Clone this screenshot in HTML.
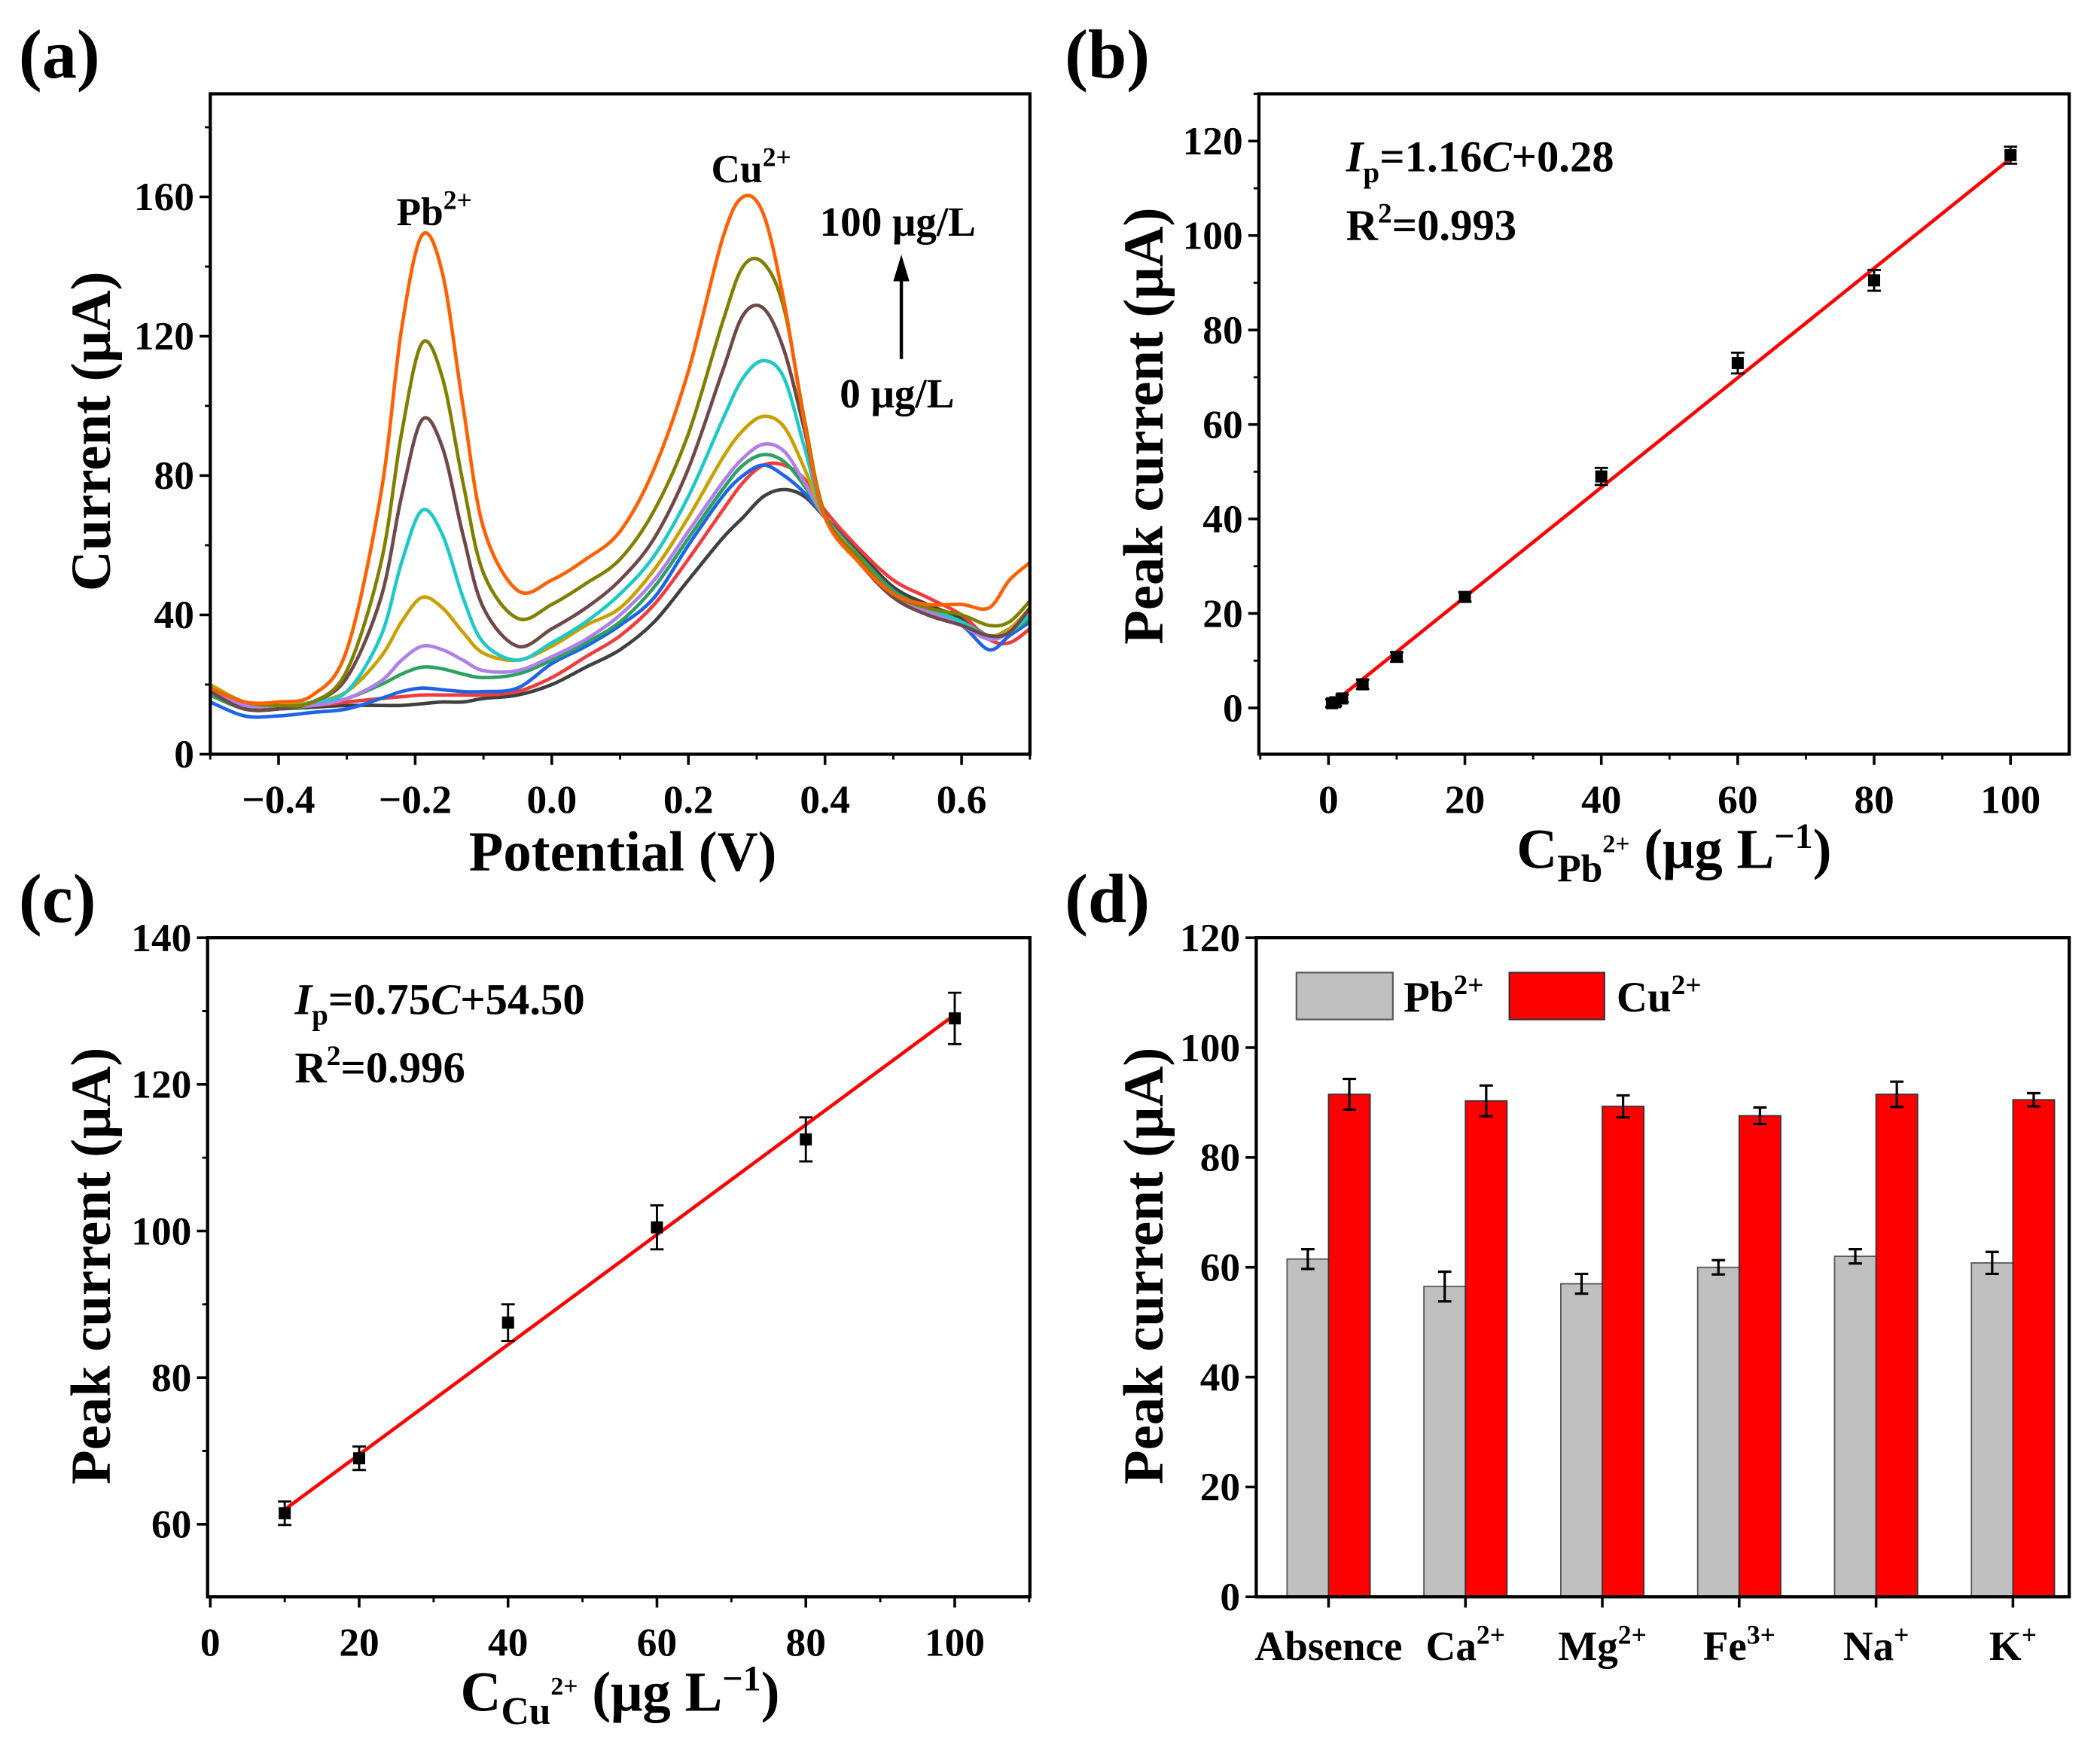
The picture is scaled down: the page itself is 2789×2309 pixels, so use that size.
<!DOCTYPE html>
<html><head><meta charset="utf-8"><style>
html,body{margin:0;padding:0;background:#fff}
svg{display:block;font-family:"Liberation Serif",serif;font-weight:bold}
</style></head><body>
<svg id="fig" width="2789" height="2309" viewBox="0 0 1568 1298.1" xmlns="http://www.w3.org/2000/svg"></svg>
<script>
// ---------- Panel (a) data ----------
const potX = [-0.5,-0.45,-0.4,-0.35,-0.3,-0.25,-0.22,-0.19,-0.16,-0.13,-0.1,-0.05,0,0.05,0.1,0.15,0.2,0.25,0.28,0.31,0.34,0.37,0.4,0.45,0.5,0.55,0.6,0.64,0.67,0.7];
const curveNames = ['0','c1','c2','c3','c4','c5','c6','c7','c8','100'];
const curveColors = ['#404040','#f03c3c','#1e64e6','#2ea060','#b080e8','#c8a000','#20c8c8','#704848','#808000','#ff6000'];
const curveBlack = [17,13,13,13.5,14,14,14,14.5,15,15,16,17,20,25,30,38,50,62,68,74,76,74,68,58,48,43,39,34,36,40];
const curveRed = [18,14,14,14,15,16,16.5,17,17,17,17,18,22,28,34,43,56,70,78,83,83,79,70,59,50,45,40,33,32,36];
const curveBlue = [15,11,11,12,13,16,18,19,18.5,18,18,19,26,31,37,45,60,74,80,83,80,75,68,57,47,41,37,30,34,38];
const curveGreen = [17,13,13,14,16,20,23,25,24.5,23,22,23,27,32,38,48,62,76,83,86,84,77,68,57,47,42,38,33,35,39];
const curvePurple = [18,14,14,14,16,21,27,31,30,27,24,24,28,33,40,50,64,78,85,89,87,78,68,56,46,41,37,33,35,40];
const curveGold = [20,15,14,15,18,28,38,45,42,35,29,27,31,37,42,53,68,85,93,97,94,82,68,56,46,42,38,34,36,42];
const curveCyan = [18,13,13,15,18,34,55,70,63,45,32,27,32,38,46,57,74,96,108,113,108,88,68,55,46,42,38,34,35,40];
const curveBrown = [18,13,13,15,22,45,74,96,88,63,42,31,36,42,50,62,82,110,126,128,116,93,68,55,45,40,37,34,35,42];
const curveOlive = [19,15,14,15,24,55,92,118,108,78,52,39,43,49,56,70,92,124,140,141,128,96,69,56,46,42,40,37,38,44];
const curveOrange = [19,15,15,17,30,75,122,149,138,100,65,47,50,56,64,82,110,148,160,155,130,95,68,55,46,43,43,42,50,55];
const curves = [curveBlack,curveRed,curveBlue,curveGreen,curvePurple,curveGold,curveCyan,curveBrown,curveOlive,curveOrange];
const aXTicks = [-0.4,-0.2,0.0,0.2,0.4,0.6];
const aXTickLabels = ['\u22120.4','\u22120.2','0.0','0.2','0.4','0.6'];
const aYTicks = [0,40,80,120,160];

// ---------- Panel (b) data ----------
const pbConc = [0.5,1,2,5,10,20,40,60,80,100];
const pbCurrent = [1,1.2,2,5,10.8,23.5,49,73,90.5,117];
const pbErr = [0.8,0.8,0.8,1,1,1,1.8,2.2,2.2,1.8];
const pbSlope = 1.16, pbIntercept = 0.28;
const bXTicks = [0,20,40,60,80,100];
const bYTicks = [0,20,40,60,80,100,120];

// ---------- Panel (c) data ----------
const cuConc = [10,20,40,60,80,100];
const cuCurrent = [61.5,69,87.5,100.5,112.5,129];
const cuErr = [1.6,1.6,2.5,3,3,3.5];
const cuSlope = 0.75, cuIntercept = 54.5;
const cXTicks = [0,20,40,60,80,100];
const cYTicks = [60,80,100,120,140];

// ---------- Panel (d) data ----------
const ions = ['Absence','Ca','Mg','Fe','Na','K'];
const ionCharges = ['','2+','2+','3+','+','+'];
const pbInterf = [61.5,56.5,57,60,62,60.8];
const pbInterfErr = [1.8,2.7,1.8,1.3,1.3,2];
const cuInterf = [91.5,90.3,89.3,87.6,91.5,90.5];
const cuInterfErr = [2.8,2.8,2,1.5,2.3,1.2];
const dYTicks = [0,20,40,60,80,100,120];

const NS='http://www.w3.org/2000/svg';
const svg=document.getElementById('fig');
const TICK=30;
function el(tag,attrs,parent){const e=document.createElementNS(NS,tag);for(const k in attrs)e.setAttribute(k,attrs[k]);(parent||svg).appendChild(e);return e;}
function scale(d0,d1,r0,r1){return v=>r0+(v-d0)*(r1-r0)/(d1-d0);}
function txt(x,y,s,size,anchor,parent){const t=el('text',{x:x,y:y,'font-size':size,'text-anchor':anchor||'start',fill:'#000'},parent);t.textContent=s;return t;}

function frame(g,L,T,R,B){
  const r=el('rect',{x:L,y:T,width:R-L,height:B-T,fill:'none',stroke:'#000','stroke-width':2.4},g);
  
  
}
function yAxis(g,L,ys,ticks,labels,minorStep,ymin,ymax){
  const ax=el('g',{},g);
  
  
  ticks.forEach((v,i)=>{el('line',{x1:L-8,x2:L,y1:ys(v),y2:ys(v),stroke:'#000','stroke-width':2},ax);
    const t=txt(L-12,ys(v)+10,labels?labels[i]:String(v),TICK,'end',ax);
    
    });
  if(minorStep){for(let v=Math.ceil(ymin/minorStep)*minorStep;v<=ymax+1e-9;v+=minorStep){if(ticks.some(t=>Math.abs(t-v)<1e-9))continue;el('line',{x1:L-4,x2:L,y1:ys(v),y2:ys(v),stroke:'#000','stroke-width':1.6},ax);}}
}
function xAxis(g,B,xs,ticks,labels,minorStep,xmin,xmax){
  const ax=el('g',{},g);
  
  
  ticks.forEach((v,i)=>{el('line',{x1:xs(v),x2:xs(v),y1:B,y2:B+8,stroke:'#000','stroke-width':2},ax);
    const t=txt(xs(v),B+44,labels?labels[i]:String(v),TICK,'middle',ax);
    
    });
  if(minorStep){for(let v=Math.ceil((xmin-1e-9)/minorStep)*minorStep;v<=xmax+1e-9;v+=minorStep){if(ticks.some(t=>Math.abs(t-v)<1e-9))continue;el('line',{x1:xs(v),x2:xs(v),y1:B,y2:B+4,stroke:'#000','stroke-width':1.6},ax);}}
}
function spline(pts){let d='M'+pts[0][0]+','+pts[0][1];for(let i=0;i<pts.length-1;i++){const p0=pts[Math.max(0,i-1)],p1=pts[i],p2=pts[i+1],p3=pts[Math.min(pts.length-1,i+2)];
  const c1x=p1[0]+(p2[0]-p0[0])/6,c1y=p1[1]+(p2[1]-p0[1])/6,c2x=p2[0]-(p3[0]-p1[0])/6,c2y=p2[1]-(p3[1]-p1[1])/6;d+=' C'+c1x+','+c1y+' '+c2x+','+c2y+' '+p2[0]+','+p2[1];}return d;}
function panelLabel(x,y,s){const t=txt(x,y,s,52,'start');}
function yTitle(x,y,s){const t=el('text',{x:0,y:0,'font-size':42,'text-anchor':'middle',transform:`translate(${x},${y}) rotate(-90)`});t.textContent=s;return t;}

// ===== Panel (a) =====
(function(){
  const g=el('g',{});
  const L=157,T=70,R=769,B=563;
  const xs=scale(-0.5,0.7,L,R), ys=scale(0,189.6,B,T);
  const clip=el('clipPath',{id:'ca'},g);
  el('rect',{x:L,y:T,width:R-L,height:B-T},clip);
  const cg=el('g',{'clip-path':'url(#ca)'},g);
  curves.forEach((c,k)=>{const p=el('path',{d:spline(potX.map((x,i)=>[xs(x),ys(c[i])])),fill:'none',stroke:curveColors[k],'stroke-width':2.6,'stroke-linejoin':'round'},cg);
    
    });
  frame(g,L,T,R,B);
  yAxis(g,L,ys,aYTicks,null,20,0,189);
  xAxis(g,B,xs,aXTicks,aXTickLabels,0.1,-0.5,0.7);
  yTitle(82,322,'Current (\u03bcA)');
  let t=txt(465,650,'Potential (V)',42,'middle',g);
  t=el('text',{x:296,y:168,'font-size':30},g);t.innerHTML='Pb<tspan dy="-12" font-size="20">2+</tspan>';
  t=el('text',{x:531,y:136,'font-size':30},g);t.innerHTML='Cu<tspan dy="-12" font-size="20">2+</tspan>';
  t=txt(612,176,'100 \u03bcg/L',31,'start',g);
  t=txt(627,304,'0 \u03bcg/L',31,'start',g);
  const ar=el('g',{},g);
  el('line',{x1:673,y1:268,x2:673,y2:205,stroke:'#000','stroke-width':2.5},ar);
  el('polygon',{points:'667,210 679,210 673,190',fill:'#000'},ar);
  panelLabel(14,58,'(a)');
})();

// ===== scatter helper =====
function scatterPanel(id,L,T,R,B,xmin,xmax,ymin,ymax,X,Y,E,slope,icpt,xt,yt,xMinor,yMinor){
  const g=el('g',{});
  const xs=scale(xmin,xmax,L,R), ys=scale(ymin,ymax,B,T);
  frame(g,L,T,R,B);
  yAxis(g,L,ys,yt,null,yMinor,ymin,ymax);
  xAxis(g,B,xs,xt,null,xMinor,xmin,xmax);
  const x0=X[0],x1=X[X.length-1];
  const fit=el('line',{x1:xs(x0),y1:ys(slope*x0+icpt),x2:xs(x1),y2:ys(slope*x1+icpt),stroke:'#ff0000','stroke-width':2.6},g);
  
  X.forEach((x,i)=>{const pg=el('g',{},g);
    const cx=xs(x),yt_=ys(Y[i]+E[i]),yb=ys(Y[i]-E[i]);
    el('line',{x1:cx,x2:cx,y1:yt_,y2:yb,stroke:'#000','stroke-width':1.6},pg);
    el('line',{x1:cx-5,x2:cx+5,y1:yt_,y2:yt_,stroke:'#000','stroke-width':1.6},pg);
    el('line',{x1:cx-5,x2:cx+5,y1:yb,y2:yb,stroke:'#000','stroke-width':1.6},pg);
    el('rect',{x:cx-4.5,y:ys(Y[i])-4.5,width:9,height:9,fill:'#000'},pg);});
  return g;
}
// ===== Panel (b) =====
(function(){
  const g=scatterPanel('panel-b-pb-calibration',940,70,1545,563,-10.2,108.6,-9.8,130,pbConc,pbCurrent,pbErr,pbSlope,pbIntercept,bXTicks,bYTicks,10,10);
  yTitle(868,318,'Peak current (\u03bcA)');
  let t=el('text',{x:1250,y:648,'font-size':42,'text-anchor':'middle'},g);
  t.innerHTML='C<tspan dy="10" font-size="29">Pb</tspan><tspan dy="-22" font-size="19">2+</tspan><tspan dy="12"> (\u03bcg L</tspan><tspan dy="-15" font-size="27">\u22121</tspan><tspan dy="15">)</tspan>';
  
  t=el('text',{x:1005,y:128,'font-size':33},g);t.innerHTML='<tspan font-style="italic">I</tspan><tspan dy="8" font-size="22">p</tspan><tspan dy="-8">=1.16</tspan><tspan font-style="italic">C</tspan>+0.28';
  
  t=el('text',{x:1005,y:179,'font-size':33},g);t.innerHTML='R<tspan dy="-13" font-size="21">2</tspan><tspan dy="13">=0.993</tspan>';
  
  panelLabel(795,58,'(b)');
})();
// ===== Panel (c) =====
(function(){
  const g=scatterPanel('panel-c-cu-calibration',155,700,769,1192,-0.36,110.1,50.1,140,cuConc,cuCurrent,cuErr,cuSlope,cuIntercept,cXTicks,cYTicks,10,10);
  yTitle(82,945,'Peak current (\u03bcA)');
  let t=el('text',{x:463,y:1277,'font-size':42,'text-anchor':'middle'},g);
  t.innerHTML='C<tspan dy="10" font-size="29">Cu</tspan><tspan dy="-22" font-size="19">2+</tspan><tspan dy="12"> (\u03bcg L</tspan><tspan dy="-15" font-size="27">\u22121</tspan><tspan dy="15">)</tspan>';
  
  t=el('text',{x:220,y:757,'font-size':33},g);t.innerHTML='<tspan font-style="italic">I</tspan><tspan dy="8" font-size="22">p</tspan><tspan dy="-8">=0.75</tspan><tspan font-style="italic">C</tspan>+54.50';
  
  t=el('text',{x:220,y:808,'font-size':33},g);t.innerHTML='R<tspan dy="-13" font-size="21">2</tspan><tspan dy="13">=0.996</tspan>';
  
  panelLabel(14,688,'(c)');
})();
// ===== Panel (d) =====
(function(){
  const g=el('g',{});
  const L=938,T=700,R=1545,B=1192;
  const step=102.2, xc=i=>992+i*step, ys=scale(0,120,B,T), bw=31;
  ions.forEach((n,i)=>{
    const bg=el('g',{},g);
    const b1=el('rect',{x:xc(i)-bw,y:ys(pbInterf[i]),width:bw,height:B-ys(pbInterf[i]),fill:'#c0c0c0',stroke:'#555','stroke-width':1},bg);
    
    const b2=el('rect',{x:xc(i),y:ys(cuInterf[i]),width:bw,height:B-ys(cuInterf[i]),fill:'#ff0000',stroke:'#333','stroke-width':1},bg);
    
    [[xc(i)-bw/2,pbInterf[i],pbInterfErr[i]],[xc(i)+bw/2,cuInterf[i],cuInterfErr[i]]].forEach(([cx,v,e])=>{
      el('line',{x1:cx,x2:cx,y1:ys(v+e),y2:ys(v-e),stroke:'#000','stroke-width':1.8},bg);
      el('line',{x1:cx-5,x2:cx+5,y1:ys(v+e),y2:ys(v+e),stroke:'#000','stroke-width':1.8},bg);
      el('line',{x1:cx-5,x2:cx+5,y1:ys(v-e),y2:ys(v-e),stroke:'#000','stroke-width':1.8},bg);});
    el('line',{x1:xc(i),x2:xc(i),y1:B,y2:B+8,stroke:'#000','stroke-width':2},g);
    const t=el('text',{x:xc(i),y:1239,'font-size':31,'text-anchor':'middle'},g);
    t.innerHTML=n+(ionCharges[i]?'<tspan dy="-12" font-size="20">'+ionCharges[i]+'</tspan>':'');
    
  });
  frame(g,L,T,R,B);
  yAxis(g,L,ys,dYTicks,null,null,0,120);
  yTitle(868,945,'Peak current (\u03bcA)');
  const lg=el('g',{},g);
  el('rect',{x:968,y:726,width:72,height:35,fill:'#c0c0c0',stroke:'#555','stroke-width':1.2},lg);
  let t=el('text',{x:1048,y:755,'font-size':32},lg);t.innerHTML='Pb<tspan dy="-13" font-size="21">2+</tspan>';
  el('rect',{x:1127,y:726,width:71,height:35,fill:'#ff0000',stroke:'#333','stroke-width':1.2},lg);
  t=el('text',{x:1207,y:755,'font-size':32},lg);
  t.innerHTML='Cu<tspan dy="-13" font-size="21">2+</tspan>';
  panelLabel(795,688,'(d)');
})();
</script>
</body></html>
